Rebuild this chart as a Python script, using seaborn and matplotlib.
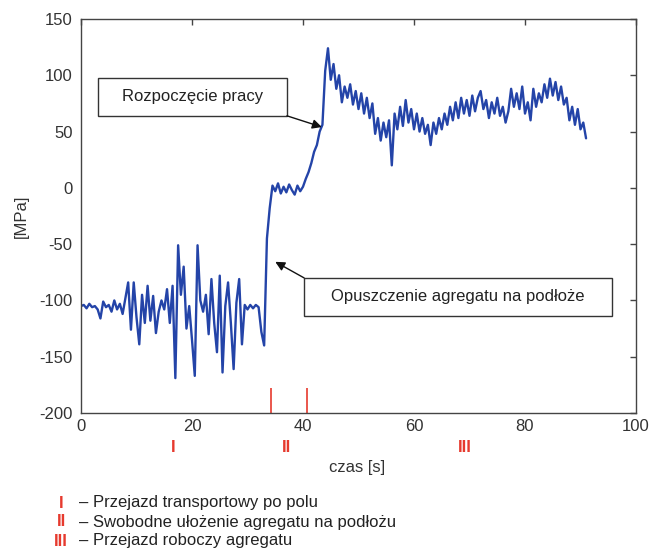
import numpy as np
import pandas as pd
import seaborn as sns
import matplotlib.pyplot as plt
from matplotlib.patches import Rectangle
from matplotlib.transforms import blended_transform_factory

# sampling step of the read-off trace [s]
DT = 0.5

# phase I: 0 - 33.5 s (transport run)
stress_I = [-105, -104, -107, -103, -106, -105, -108, -116, -101, -106,
            -104, -110, -100, -108, -103, -112, -98, -84, -126, -84,
            -115, -139, -95, -120, -87, -118, -96, -129, -110, -100,
            -108, -90, -120, -87, -169, -51, -95, -70, -125, -105,
            -135, -167, -51, -100, -110, -95, -130, -81, -120, -146,
            -78, -164, -105, -84, -120, -161, -102, -81, -139, -104,
            -108, -104, -107, -104, -106, -128, -140, -45]

# phase II: 34 - 40.5 s (implement lowered on the ground)
stress_II = [-18, 2, -3, 4, -5, 1, -4, 3, -2, -6, 2, -3, 1, 8]

# phase III: 41 - 91 s (working run)
stress_III = [14, 22, 32, 38, 50, 56, 104, 124, 96, 110,
              88, 100, 76, 90, 80, 92, 74, 86, 70, 84,
              66, 80, 62, 75, 48, 62, 42, 58, 45, 60,
              20, 66, 52, 72, 55, 78, 58, 70, 52, 66,
              50, 62, 48, 56, 38, 58, 48, 62, 52, 66,
              56, 72, 60, 76, 62, 80, 66, 78, 64, 82,
              68, 80, 86, 70, 78, 62, 76, 66, 80, 64,
              72, 58, 68, 88, 72, 84, 70, 90, 66, 76,
              60, 88, 72, 84, 76, 92, 80, 97, 82, 94,
              78, 90, 74, 80, 60, 72, 56, 70, 52, 58,
              44]

phase_lines = [34.2, 40.8]
phase_labels = ['I', 'II', 'III']
phase_label_x = [16.6, 37.1, 69.2]
phase_desc = ['– Przejazd transportowy po polu',
              '– Swobodne ułożenie agregatu na podłożu',
              '– Przejazd roboczy agregatu']

stress = stress_I + stress_II + stress_III
czas = np.arange(len(stress)) * DT
df = pd.DataFrame({'czas': czas, 'MPa': stress})

sns.set_style('white')
plt.rcParams['font.family'] = ['Liberation Sans', 'DejaVu Sans']
plt.rcParams['axes.unicode_minus'] = False

blue = '#2444a8'
red = '#e63a2e'

fig = plt.figure(figsize=(6.52, 5.5), dpi=100)
ax = fig.add_axes([81/652, 1-413/550, 555/652, 394/550])

sns.lineplot(data=df, x='czas', y='MPa', ax=ax, color=blue, lw=1.7)

ax.set_xlim(0, 100)
ax.set_ylim(-200, 150)
ax.set_xticks(range(0, 101, 20))
ax.set_yticks(range(-200, 151, 50))
for s in ax.spines.values():
    s.set_color('#444444')
    s.set_linewidth(1.0)
ax.tick_params(direction='in', top=True, right=True, length=4, width=1,
               colors='#444444', labelcolor='#333333', labelsize=12)
ax.tick_params(axis='x', pad=4)
ax.tick_params(axis='y', pad=6)

ax.set_xlabel('czas [s]', fontsize=12, color='#333333')
ax.xaxis.set_label_coords(0.497, -0.12)
ax.set_ylabel('[MPa]', fontsize=12, color='#333333')
ax.yaxis.set_label_coords(-0.094, 0.5)

# red phase boundaries and numerals
ax.vlines(phase_lines, -200, -178, color=red, lw=1.2)
trans = blended_transform_factory(ax.transData, ax.transAxes)
for x, lab in zip(phase_label_x, phase_labels):
    ax.text(x, -0.087, lab, transform=trans, ha='center', va='center',
            color=red, fontsize=12, fontweight='bold', clip_on=False)

# annotation boxes
ax.add_patch(Rectangle((3.1, 64), 34, 33.7, facecolor='white',
                       edgecolor='#333333', lw=1, zorder=3))
ax.text(20.1, 80.8, 'Rozpoczęcie pracy', ha='center', va='center',
        fontsize=12, color='#222222', zorder=4)
ax.annotate('', xy=(43.4, 54), xytext=(37.1, 64),
            arrowprops=dict(arrowstyle='-|>', color='#111111', lw=1,
                            mutation_scale=14, shrinkA=0, shrinkB=0))

ax.add_patch(Rectangle((40.2, -113.7), 55.5, 33.7, facecolor='white',
                       edgecolor='#333333', lw=1, zorder=3))
ax.text(67.9, -96.8, 'Opuszczenie agregatu na podłoże', ha='center',
        va='center', fontsize=12, color='#222222', zorder=4)
ax.annotate('', xy=(35, -65.7), xytext=(40.2, -80),
            arrowprops=dict(arrowstyle='-|>', color='#111111', lw=1,
                            mutation_scale=14, shrinkA=0, shrinkB=0))

# legend of phases below the chart
for i, (lab, desc) in enumerate(zip(phase_labels, phase_desc)):
    y = 1 - (503 + 19*i)/550
    fig.text(61/652, y, lab, ha='center', va='center', color=red,
             fontsize=12, fontweight='bold')
    fig.text(79/652, y, desc, ha='left', va='center', color='#222222',
             fontsize=12)

fig.savefig('out.png', dpi=100)
